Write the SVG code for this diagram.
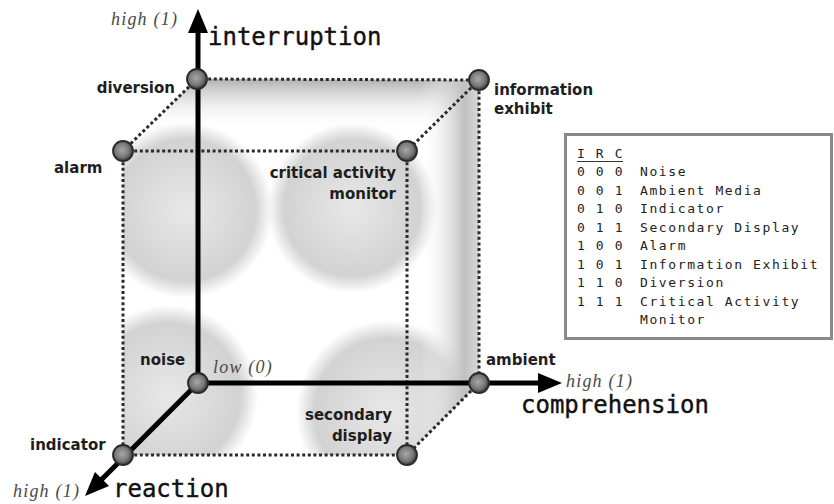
<svg xmlns="http://www.w3.org/2000/svg" width="834" height="504" viewBox="0 0 834 504">
<defs>
<style>
.lbl{font-family:"DejaVu Sans",sans-serif;font-weight:bold;font-size:15px;fill:#1e1e1e}
.ax{font-family:"DejaVu Sans Mono",monospace;font-size:24px;fill:#111;stroke:#111;stroke-width:0.4}
.hl{font-family:"Liberation Serif",serif;font-style:italic;font-size:18px;letter-spacing:1.2px;fill:#4a4a4a}
.lg{font-family:"DejaVu Sans Mono",monospace;font-size:13px;letter-spacing:1.6px;fill:#222}
.dot{stroke:#2a2a2a;stroke-width:3;stroke-dasharray:3 2.6;fill:none}
.axis{stroke:#000;stroke-width:5;fill:none}
.node{fill:url(#ng);stroke:#2a2a2a;stroke-width:1.8}
</style>
<radialGradient id="ng" cx="45%" cy="45%" r="55%">
<stop offset="0" stop-color="#a8a8a8"/>
<stop offset="0.65" stop-color="#777"/>
<stop offset="1" stop-color="#3a3a3a"/>
</radialGradient>
<radialGradient id="blob">
<stop offset="0" stop-color="#e8e8e8"/>
<stop offset="0.8" stop-color="#d2d2d2"/>
<stop offset="1" stop-color="#d2d2d2" stop-opacity="0"/>
</radialGradient>
<linearGradient id="topband" x1="0" y1="0" x2="0" y2="1">
<stop offset="0" stop-color="#b0b0b0"/>
<stop offset="1" stop-color="#fff" stop-opacity="0"/>
</linearGradient>
<linearGradient id="rband" x1="0" y1="0" x2="1" y2="0">
<stop offset="0" stop-color="#fff" stop-opacity="0"/>
<stop offset="0.75" stop-color="#c0c0c0"/>
<stop offset="1" stop-color="#d8d8d8"/>
</linearGradient>
<clipPath id="cube">
<polygon points="123,151 197,79 479,80 479,383 407,455 123,455"/>
</clipPath>
<marker id="arr" viewBox="0 0 24 20" refX="2" refY="10" markerWidth="24" markerHeight="20" markerUnits="userSpaceOnUse" orient="auto">
<path d="M0,0 L24,10 L0,20 z" fill="#000"/>
</marker>
</defs>
<rect width="834" height="504" fill="#fff"/>

<g id="shading" clip-path="url(#cube)">
<rect x="123" y="79" width="356" height="50" fill="url(#topband)"/>
<circle cx="185" cy="210" r="88" fill="url(#blob)"/>
<circle cx="352" cy="208" r="85" fill="url(#blob)"/>
<circle cx="168" cy="395" r="90" fill="url(#blob)"/>
<circle cx="388" cy="412" r="92" fill="url(#blob)"/>
<rect x="420" y="80" width="59" height="375" fill="url(#rband)"/>
</g>

<g id="connectors">
<line class="dot" x1="197" y1="79" x2="479" y2="80"/>
<line class="dot" x1="123" y1="151" x2="407" y2="151"/>
<line class="dot" x1="197" y1="79" x2="123" y2="151"/>
<line class="dot" x1="479" y1="80" x2="407" y2="151"/>
<line class="dot" x1="123" y1="151" x2="123" y2="455"/>
<line class="dot" x1="407" y1="151" x2="407" y2="455"/>
<line class="dot" x1="479" y1="80" x2="479" y2="383"/>
<line class="dot" x1="123" y1="455" x2="407" y2="455"/>
<line class="dot" x1="479" y1="383" x2="407" y2="455"/>
<line class="axis" x1="198" y1="383" x2="198" y2="31" marker-end="url(#arr)"/>
<line class="axis" x1="198" y1="383" x2="540" y2="383" marker-end="url(#arr)"/>
<line class="axis" x1="198" y1="383" x2="100.6" y2="480.4" marker-end="url(#arr)"/>
</g>

<g id="axis-labels">
<text class="hl" x="111" y="25">high (1)</text>
<text class="ax" x="208" y="45">interruption</text>
<text class="hl" x="566" y="387">high (1)</text>
<text class="ax" x="521" y="413">comprehension</text>
<text class="hl" x="13" y="497">high (1)</text>
<text class="ax" x="113" y="497">reaction</text>
<text class="hl" x="213" y="373">low (0)</text>
</g>

<g id="diversion"><circle class="node" cx="197" cy="79" r="10"/><text class="lbl" x="175" y="93" text-anchor="end">diversion</text></g>
<g id="information-exhibit"><circle class="node" cx="479" cy="80" r="10"/><text class="lbl" x="494" y="95">information</text><text class="lbl" x="494" y="114">exhibit</text></g>
<g id="alarm"><circle class="node" cx="123" cy="151" r="10"/><text class="lbl" x="54" y="173">alarm</text></g>
<g id="critical-activity-monitor"><circle class="node" cx="407" cy="151" r="10"/><text class="lbl" x="396" y="178" text-anchor="end">critical activity</text><text class="lbl" x="396" y="199" text-anchor="end">monitor</text></g>
<g id="noise"><circle class="node" cx="198" cy="383" r="10"/><text class="lbl" x="140" y="365">noise</text></g>
<g id="ambient"><circle class="node" cx="479" cy="383" r="10"/><text class="lbl" x="486" y="365">ambient</text></g>
<g id="indicator"><circle class="node" cx="123" cy="455" r="10"/><text class="lbl" x="30" y="450">indicator</text></g>
<g id="secondary-display"><circle class="node" cx="407" cy="455" r="10"/><text class="lbl" x="392" y="420" text-anchor="end">secondary</text><text class="lbl" x="392" y="441" text-anchor="end">display</text></g>

<g id="legend">
<rect x="565.5" y="134.5" width="266" height="204" fill="#fff" stroke="#8a8a8a" stroke-width="3"/>
<text class="lg" x="577" y="158">I R C</text>
<line x1="577" y1="161.5" x2="623" y2="161.5" stroke="#333" stroke-width="1"/>
<text class="lg" x="577" y="176">0 0 0</text><text class="lg" x="640" y="176">Noise</text>
<text class="lg" x="577" y="194.5">0 0 1</text><text class="lg" x="640" y="194.5">Ambient Media</text>
<text class="lg" x="577" y="213">0 1 0</text><text class="lg" x="640" y="213">Indicator</text>
<text class="lg" x="577" y="231.5">0 1 1</text><text class="lg" x="640" y="231.5">Secondary Display</text>
<text class="lg" x="577" y="250">1 0 0</text><text class="lg" x="640" y="250">Alarm</text>
<text class="lg" x="577" y="268.5">1 0 1</text><text class="lg" x="640" y="268.5">Information Exhibit</text>
<text class="lg" x="577" y="287">1 1 0</text><text class="lg" x="640" y="287">Diversion</text>
<text class="lg" x="577" y="305.5">1 1 1</text><text class="lg" x="640" y="305.5">Critical Activity</text>
<text class="lg" x="640" y="324">Monitor</text>
</g>
</svg>
